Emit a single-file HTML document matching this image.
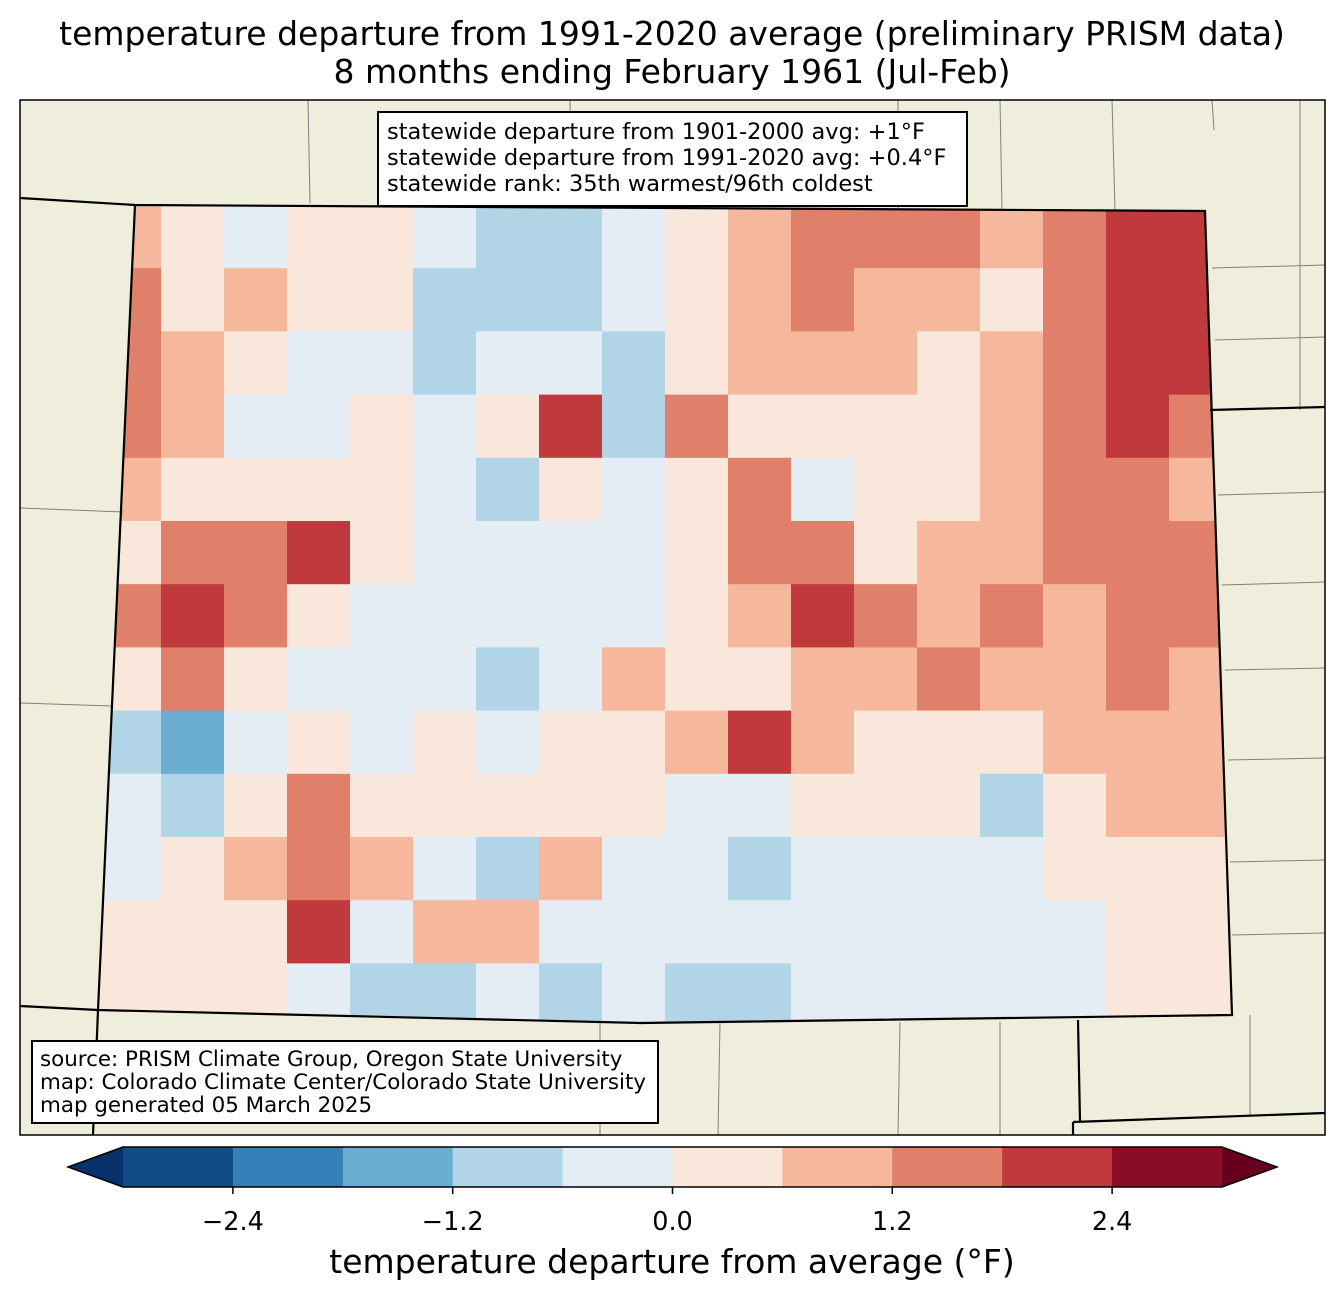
<!DOCTYPE html>
<html><head><meta charset="utf-8"><style>
body{margin:0;background:#fff;width:1344px;height:1299px;overflow:hidden;font-family:"Liberation Sans","DejaVu Sans",sans-serif}
</style></head><body>
<svg id="s" width="1344" height="1299" viewBox="0 0 1344 1299" xmlns="http://www.w3.org/2000/svg">
<text x="672" y="45" text-anchor="middle" font-size="33" font-family="DejaVu Sans, Liberation Sans, sans-serif">temperature departure from 1991-2020 average (preliminary PRISM data)</text>
<text x="672" y="83" text-anchor="middle" font-size="33" font-family="DejaVu Sans, Liberation Sans, sans-serif">8 months ending February 1961 (Jul-Feb)</text>
<defs><clipPath id="co"><polygon points="135,205 1205,211 1232,1015 640,1023 98,1010"/></clipPath>
<clipPath id="frame"><rect x="20" y="100" width="1305" height="1035"/></clipPath></defs>
<rect x="20" y="100" width="1305" height="1035" fill="#efeedc"/>
<g id="cells" clip-path="url(#co)"></g>
<g clip-path="url(#frame)" fill="none">
<g stroke="#808080" stroke-width="1">
<path d="M308,100 L310,203 M570,100 L572,208 M898,100 L898,210 M1000,100 L1002,210 M1112,100 L1115,210 M1212,100 L1214,130 M20,508 L124,512 M20,703 L112,706 M1212,268 L1325,265 M1215,340 L1325,337 M1218,495 L1325,492 M1222,585 L1325,582 M1225,670 L1325,668 M1228,760 L1325,758 M1230,862 L1325,860 M1232,935 L1325,933 M720,1022 L718,1135 M900,1022 L898,1135 M1000,1022 L1000,1135 M600,1022 L600,1135 M1250,1015 L1250,1115 M1300,100 L1300,410"/>
</g>
<g stroke="#000" stroke-width="2.2">
<path d="M20,198 L135,205 L1205,211 L1232,1015 L640,1023 L98,1010 L20,1006"/>
<path d="M135,205 L98,1010 L93,1135"/>
<path d="M1210,410 L1325,407 M1078,1020 L1080,1122 M1073,1122 L1325,1113 M1073,1122 L1073,1135"/>
</g></g>
<rect x="20" y="100" width="1305" height="1035" fill="none" stroke="#000" stroke-width="1.5"/>
<g>
<rect x="378" y="112" width="589" height="94" fill="#fff" stroke="#000" stroke-width="2"/>
<text font-size="22.5" font-family="DejaVu Sans, Liberation Sans, sans-serif"><tspan x="387" y="139">statewide departure from 1901-2000 avg: +1°F</tspan><tspan x="387" y="165">statewide departure from 1991-2020 avg: +0.4°F</tspan><tspan x="387" y="191">statewide rank: 35th warmest/96th coldest</tspan></text>
</g>
<g>
<rect x="32" y="1041" width="626" height="82" fill="#fff" stroke="#000" stroke-width="2"/>
<text font-size="21.4" font-family="DejaVu Sans, Liberation Sans, sans-serif"><tspan x="40" y="1066">source: PRISM Climate Group, Oregon State University</tspan><tspan x="40" y="1089">map: Colorado Climate Center/Colorado State University</tspan><tspan x="40" y="1112">map generated 05 March 2025</tspan></text>
</g>
<g id="cbar"></g>
<text x="672" y="1273" text-anchor="middle" font-size="33" font-family="DejaVu Sans, Liberation Sans, sans-serif">temperature departure from average (°F)</text>
</svg>
<script>
const boundaries=[-3.0,-2.4,-1.8,-1.2,-0.6,0,0.6,1.2,1.8,2.4,3.0];
const colors=["#134b87","#3480b9","#6bacd1","#b1d5e7","#e3edf3","#fae7dc","#f6b89c","#e07f6a","#c0393d","#8b0c25"];
const tickValues=[-2.4,-1.2,0.0,1.2,2.4];
const tickLabels=["\u22122.4","\u22121.2","0.0","1.2","2.4"];
const gridValues=[
[0.9,0.3,-0.3,0.3,0.3,-0.3,-0.9,-0.9,-0.3,0.3,0.9,1.5,1.5,1.5,0.9,1.5,2.1,2.1],
[1.5,0.3,0.9,0.3,0.3,-0.9,-0.9,-0.9,-0.3,0.3,0.9,1.5,0.9,0.9,0.3,1.5,2.1,2.1],
[1.5,0.9,0.3,-0.3,-0.3,-0.9,-0.3,-0.3,-0.9,0.3,0.9,0.9,0.9,0.3,0.9,1.5,2.1,2.1],
[1.5,0.9,-0.3,-0.3,0.3,-0.3,0.3,2.1,-0.9,1.5,0.3,0.3,0.3,0.3,0.9,1.5,2.1,1.5],
[0.9,0.3,0.3,0.3,0.3,-0.3,-0.9,0.3,-0.3,0.3,1.5,-0.3,0.3,0.3,0.9,1.5,1.5,0.9],
[0.3,1.5,1.5,2.1,0.3,-0.3,-0.3,-0.3,-0.3,0.3,1.5,1.5,0.3,0.9,0.9,1.5,1.5,1.5],
[1.5,2.1,1.5,0.3,-0.3,-0.3,-0.3,-0.3,-0.3,0.3,0.9,2.1,1.5,0.9,1.5,0.9,1.5,1.5],
[0.3,1.5,0.3,-0.3,-0.3,-0.3,-0.9,-0.3,0.9,0.3,0.3,0.9,0.9,1.5,0.9,0.9,1.5,0.9],
[-0.9,-1.5,-0.3,0.3,-0.3,0.3,-0.3,0.3,0.3,0.9,2.1,0.9,0.3,0.3,0.3,0.9,0.9,0.9],
[-0.3,-0.9,0.3,1.5,0.3,0.3,0.3,0.3,0.3,-0.3,-0.3,0.3,0.3,0.3,-0.9,0.3,0.9,0.9],
[-0.3,0.3,0.9,1.5,0.9,-0.3,-0.9,0.9,-0.3,-0.3,-0.9,-0.3,-0.3,-0.3,-0.3,0.3,0.3,0.3],
[0.3,0.3,0.3,2.1,-0.3,0.9,0.9,-0.3,-0.3,-0.3,-0.3,-0.3,-0.3,-0.3,-0.3,-0.3,0.3,0.3],
[0.3,0.3,0.3,-0.3,-1.2,-0.9,-0.3,-0.9,-0.3,-0.9,-0.9,-0.3,-0.3,-0.3,-0.3,-0.3,0.3,0.3]
];
const NS="http://www.w3.org/2000/svg";
const x0=98,y0=205,cw=63,ch=63.2;
function colorFor(v){
  if(v<boundaries[0])return "#08306b";
  if(v>=boundaries[boundaries.length-1])return "#67001f";
  for(let i=0;i<colors.length;i++){if(v<boundaries[i+1])return colors[i];}
  return colors[colors.length-1];
}
const cells=document.getElementById('cells');
gridValues.forEach((row,j)=>row.forEach((v,i)=>{
  const r=document.createElementNS(NS,'rect');
  r.setAttribute('x',x0+i*cw);r.setAttribute('y',y0+j*ch);
  r.setAttribute('width',cw+0.5);r.setAttribute('height',ch+0.5);
  r.setAttribute('fill',colorFor(v));
  
  
  cells.appendChild(r);
}));
const cb=document.getElementById('cbar');
const cbL=123,cbR=1222,cbT=1147,cbB=1187;
const vmin=boundaries[0],vmax=boundaries[boundaries.length-1];
function sx(v){return cbL+(v-vmin)/(vmax-vmin)*(cbR-cbL);}
colors.forEach((c,i)=>{
  const r=document.createElementNS(NS,'rect');
  r.setAttribute('x',sx(boundaries[i]));r.setAttribute('y',cbT);
  r.setAttribute('width',sx(boundaries[i+1])-sx(boundaries[i])+0.5);r.setAttribute('height',cbB-cbT);
  r.setAttribute('fill',c);
  
  
  cb.appendChild(r);
});
const lt=document.createElementNS(NS,'polygon');
lt.setAttribute('points',`${cbL},${cbT} ${cbL},${cbB} 68,${(cbT+cbB)/2}`);
lt.setAttribute('fill','#08306b');


cb.appendChild(lt);
const rt=document.createElementNS(NS,'polygon');
rt.setAttribute('points',`${cbR},${cbT} ${cbR},${cbB} 1277,${(cbT+cbB)/2}`);
rt.setAttribute('fill','#67001f');


cb.appendChild(rt);
const ol=document.createElementNS(NS,'polygon');
ol.setAttribute('points',`68,${(cbT+cbB)/2} ${cbL},${cbT} ${cbR},${cbT} 1277,${(cbT+cbB)/2} ${cbR},${cbB} ${cbL},${cbB}`);
ol.setAttribute('fill','none');ol.setAttribute('stroke','#000');ol.setAttribute('stroke-width','1.5');


cb.appendChild(ol);
tickValues.forEach((v,i)=>{
  const l=document.createElementNS(NS,'line');
  l.setAttribute('x1',sx(v));l.setAttribute('x2',sx(v));l.setAttribute('y1',cbB);l.setAttribute('y2',cbB+7);
  l.setAttribute('stroke','#000');l.setAttribute('stroke-width','1.5');
  
  
  cb.appendChild(l);
  const t=document.createElementNS(NS,'text');
  t.setAttribute('x',sx(v));t.setAttribute('y',1230);
  t.setAttribute('text-anchor','middle');t.setAttribute('font-size','25.5');
  t.setAttribute('font-family','DejaVu Sans, Liberation Sans, sans-serif');
  t.textContent=tickLabels[i];
  
  
  cb.appendChild(t);
});
</script>
</body></html>
